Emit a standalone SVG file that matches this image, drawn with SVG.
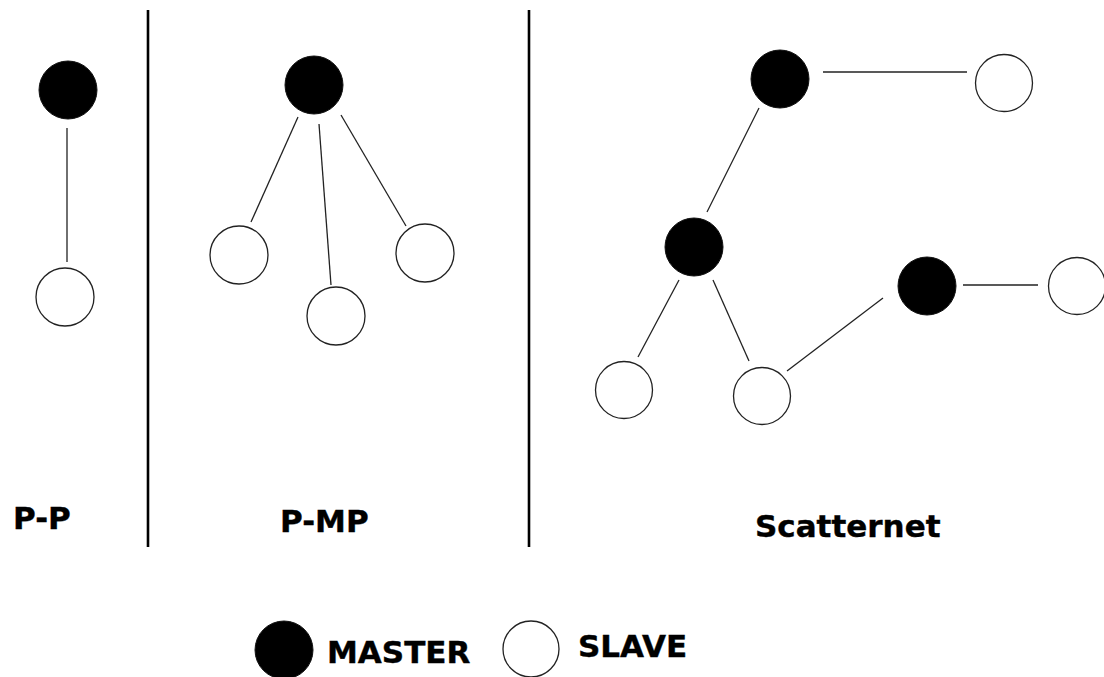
<svg xmlns="http://www.w3.org/2000/svg" width="1104" height="677" viewBox="0 0 1104 677">
<style>
.m{fill:#000;stroke:#111;stroke-width:1}
.s{fill:#fff;stroke:#222;stroke-width:1.3}
.c line{stroke:#222;stroke-width:1.3}
.d{stroke:#000;stroke-width:2.6}
text{font-family:"DejaVu Sans","Verdana",sans-serif;font-weight:bold;font-size:31px;fill:#000;stroke:#000;stroke-width:0.4}
</style>
<rect width="1104" height="677" fill="#fff"/>
<g id="dividers">
<line class="d" x1="148" y1="10" x2="148" y2="547"/>
<line class="d" x1="529" y1="10" x2="529" y2="547"/>
</g>
<g class="c" id="connectors">
<line x1="67" y1="128" x2="67" y2="262"/>
<line x1="298" y1="117" x2="251" y2="222"/>
<line x1="319" y1="124" x2="331" y2="285"/>
<line x1="341" y1="115" x2="406" y2="226"/>
<line x1="823" y1="72" x2="967" y2="72"/>
<line x1="759" y1="108" x2="707" y2="212"/>
<line x1="963" y1="285" x2="1038" y2="285"/>
<line x1="679" y1="280" x2="638" y2="357"/>
<line x1="713" y1="280" x2="749" y2="361"/>
<line x1="787" y1="371" x2="883" y2="298"/>
</g>
<g id="pp-master"><circle class="m" cx="68" cy="90" r="29"/></g>
<g id="pp-slave"><circle class="s" cx="65" cy="297" r="29"/></g>
<g id="pmp-master"><circle class="m" cx="314" cy="85" r="29"/></g>
<g id="pmp-slave1"><circle class="s" cx="239" cy="255" r="29"/></g>
<g id="pmp-slave2"><circle class="s" cx="336" cy="316" r="29"/></g>
<g id="pmp-slave3"><circle class="s" cx="425" cy="253" r="29"/></g>
<g id="sc-master1"><circle class="m" cx="780" cy="79" r="29"/></g>
<g id="sc-slave1"><circle class="s" cx="1004" cy="83" r="28.5"/></g>
<g id="sc-master2"><circle class="m" cx="694" cy="247" r="29"/></g>
<g id="sc-master3"><circle class="m" cx="927" cy="286" r="29"/></g>
<g id="sc-slave2"><circle class="s" cx="1077" cy="286" r="28.5"/></g>
<g id="sc-slave3"><circle class="s" cx="624" cy="390" r="28.5"/></g>
<g id="sc-slave4"><circle class="s" cx="762" cy="396" r="28.5"/></g>
<g id="labels">
<text x="13" y="529">P-P</text>
<text x="280" y="532">P-MP</text>
<text x="755" y="537">Scatternet</text>
</g>
<g id="legend-master">
<circle class="m" cx="284" cy="650" r="29"/>
<text x="327" y="663">MASTER</text>
</g>
<g id="legend-slave">
<circle class="s" cx="531" cy="649" r="28"/>
<text x="578" y="657">SLAVE</text>
</g>
</svg>
